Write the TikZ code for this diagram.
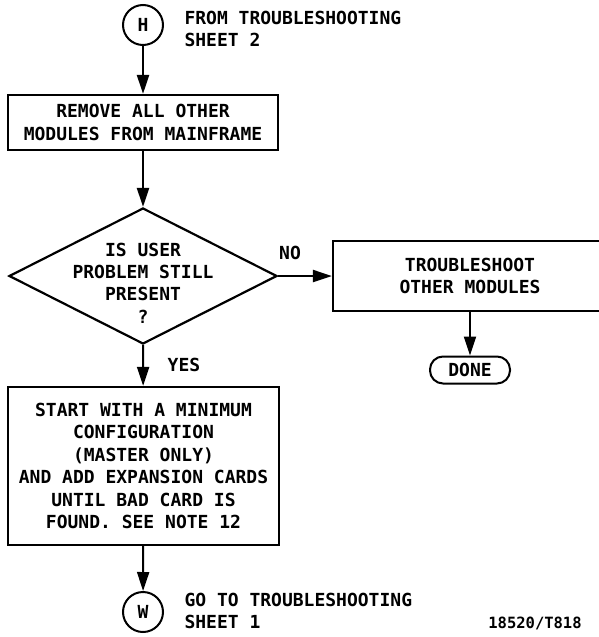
\documentclass[tikz,border=0pt]{standalone}
\usepackage{fontspec}
\usetikzlibrary{arrows.meta,shapes.geometric}
\newfontfamily\plotfont{DejaVu Sans Mono}

\begin{document}
\begin{tikzpicture}[x=1pt, y=-1pt,
  font=\plotfont\bfseries\fontsize{18}{22.4}\selectfont,
  box/.style={draw, line width=2.2pt, align=center, inner sep=0pt, anchor=center},
  conn/.style={draw, circle, line width=2pt, minimum size=40pt, inner sep=0pt},
  term/.style={draw, line width=2pt, rounded corners=13pt, minimum width=80pt,
               minimum height=27pt, inner sep=0pt},
  note/.style={anchor=west, align=left},
  flow/.style={-{Triangle[length=19pt,width=12pt]}, line width=2pt}]
\useasboundingbox (0,0) rectangle (598,637);
\node[conn] (h)   at (143,25)    {H};
\node[box, minimum width=270pt, minimum height=55pt] (rem) at (143,122.5)
  {REMOVE ALL OTHER\\MODULES FROM MAINFRAME};
\node[draw, diamond, line width=2.2pt, minimum width=268pt, minimum height=136pt,
      inner sep=0pt] (dec) at (143,276) {};
\node[align=center] (q) at (143,283) {IS USER\\PROBLEM STILL\\PRESENT\\?};
\node[box, minimum width=274pt, minimum height=70pt] (tro) at (470,276)
  {TROUBLESHOOT\\OTHER MODULES};
\node[term] (done) at (470,370) {DONE};
\node[box, minimum width=271pt, minimum height=158pt] (min) at (143.5,466)
  {START WITH A MINIMUM\\CONFIGURATION\\(MASTER ONLY)\\AND ADD EXPANSION CARDS\\UNTIL BAD CARD IS\\FOUND. SEE NOTE 12};
\node[conn] (w)   at (143,612)   {W};
\draw[flow] (h) -- (rem);
\draw[flow] (rem) -- (dec.north);
\draw[flow] (dec.east) -- (tro.west);
\draw[flow] (tro) -- (done);
\draw[flow] (dec.south) -- (min);
\draw[flow] (min) -- (w);
\node[note] (hnote) at (181,29) {FROM TROUBLESHOOTING\\SHEET 2};
\node[note] (wnote) at (181,611) {GO TO TROUBLESHOOTING\\SHEET 1};
\node (no)  at (290,253) {NO};
\node (yes) at (184,365) {YES};
\node[font=\plotfont\bfseries\fontsize{15.5}{17}\selectfont] (ref) at (535,623) {18520/T818};
\end{tikzpicture}
\end{document}
